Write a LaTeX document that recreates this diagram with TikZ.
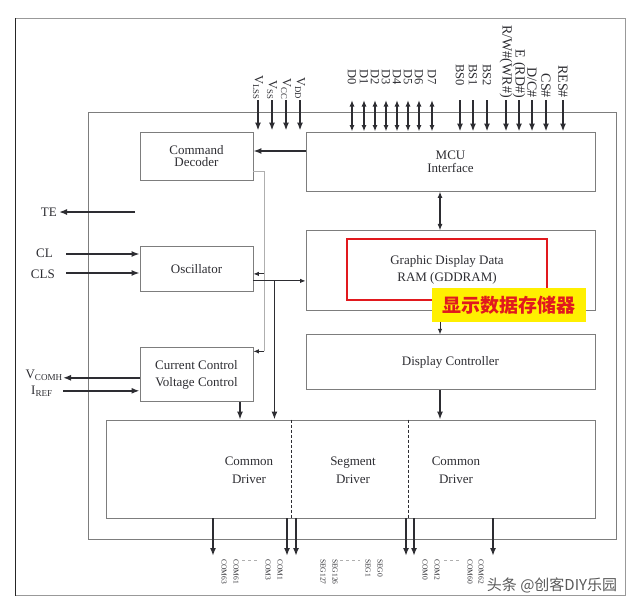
\documentclass[tikz,border=0pt]{standalone}
\usepackage{fontspec}
\setmainfont{Liberation Serif}
\newfontfamily\cjk{Noto Sans CJK SC}
\usepackage{tikz}
\usetikzlibrary{arrows.meta,positioning,calc}
\definecolor{boxgray}{RGB}{125,125,125}
\definecolor{inkgray}{RGB}{45,45,50}
\definecolor{busgray}{RGB}{175,175,175}
\definecolor{hlred}{RGB}{225,25,30}
\definecolor{hlyellow}{RGB}{255,240,0}

\begin{document}
\begin{tikzpicture}[x=1pt,y=-1pt,>={Latex[length=8pt,width=6pt]},node distance=20pt and 20pt,
  every node/.style={font=\fontsize{13}{17}\selectfont,text=inkgray,inner sep=0pt},
  blk/.style={draw=boxgray,line width=0.9pt,align=center,minimum width=113pt},
  wide/.style={draw=boxgray,line width=0.9pt,align=center,minimum width=289pt},
  pin/.style={line width=1.8pt,draw=inkgray},
  dpin/.style={line width=1.3pt,draw=inkgray,{Latex[length=6.5pt,width=5pt]}-{Latex[length=6.5pt,width=5pt]}},
  link/.style={line width=1.5pt,draw=inkgray},
  thin/.style={line width=0.9pt,draw=inkgray,-{Latex[length=5.5pt,width=4.5pt]}},
  gbus/.style={line width=0.9pt,draw=busgray},
  pinlbl/.style={rotate=-90,font=\fontsize{12.5}{12.5}\selectfont},
  ctllbl/.style={rotate=-90,font=\fontsize{14}{14}\selectfont},
  outlbl/.style={rotate=-90,anchor=west,font=\fontsize{7.5}{7.5}\selectfont}]
\useasboundingbox (0,0) rectangle (640,606);
% frame and chip outline
\node[draw=black!40,line width=0.8pt,minimum width=610pt,minimum height=577pt,anchor=north west](frame) at (15,18){};
\draw[black!85,line width=1pt](frame.north west)--(frame.south west);
\node[draw=boxgray,line width=0.9pt,minimum width=528pt,minimum height=427pt,anchor=north west](chip) at (88,112){};
% left column
\node[blk,minimum height=48pt,font=\fontsize{13}{12}\selectfont](cmd) at (196.5,156){Command\\Decoder};
\node[blk,minimum height=45pt,below=66pt of cmd](osc){Oscillator};
\node[blk,minimum height=54pt,below=55pt of osc](ccvc){Current Control\\Voltage Control};
% right column
\node[wide,minimum height=59pt,font=\fontsize{13}{13}\selectfont](mcu) at (450.5,161.5){MCU\\Interface};
\node[wide,minimum height=80pt,below=39pt of mcu](ram){};
\node[wide,minimum height=55pt,below=23pt of ram](dc){Display Controller};
\node[draw=hlred,line width=2.5pt,minimum width=200pt,minimum height=61pt,align=center](gdd) at (447,269.5){Graphic Display Data\\RAM (GDDRAM)};
% drivers
\node[draw=boxgray,line width=0.9pt,minimum width=489pt,minimum height=98pt](drv) at (350.5,469){};
\node[align=center,font=\fontsize{13}{18}\selectfont](comL) at (249,470){Common\\Driver};
\node[align=center,font=\fontsize{13}{18}\selectfont](seg) at (353,470){Segment\\Driver};
\node[align=center,font=\fontsize{13}{18}\selectfont](comR) at (456,470){Common\\Driver};
\draw[densely dashed,inkgray,line width=0.8pt]([xshift=186pt]drv.north west)--([xshift=186pt]drv.south west);
\draw[densely dashed,inkgray,line width=0.8pt]([xshift=303pt]drv.north west)--([xshift=303pt]drv.south west);
% internal connections
\draw[->,link]([yshift=5pt]cmd.east -| mcu.west)--([yshift=5pt]cmd.east);
\draw[dpin]([xshift=-10.5pt]mcu.south)--([xshift=-10.5pt]ram.north);
\draw[thin]([xshift=-10.5pt]ram.south)--([xshift=-10.5pt]dc.north);
\draw[->,link]([xshift=-10.5pt]dc.south)--([xshift=-10.5pt]dc.south |- drv.north);
\draw[gbus]([yshift=-15pt]cmd.east)-|([xshift=11pt,yshift=-4pt]ccvc.north east);
\draw[thin]([xshift=11pt,yshift=-4pt]ccvc.north east)--([yshift=-4pt]ccvc.north east);
\draw[thin]([xshift=11pt,yshift=-4.5pt]osc.east)--([yshift=-4.5pt]osc.east);
\draw[thin]([yshift=-11.5pt]osc.east)--([yshift=-11.5pt]osc.east -| ram.west);
\coordinate(oj) at ([xshift=21pt,yshift=-11.5pt]osc.east);
\draw[->,link](oj)--(oj |- drv.north);
\draw[->,link]([xshift=43.5pt]ccvc.south)--([xshift=43.5pt]ccvc.south |- drv.north);
% left pins
\node[anchor=east](te) at (57,212){TE};
\coordinate(tesrc) at (135,212);
\draw[->,link](tesrc)--([xshift=2pt]te.east);
\node[anchor=east](cl) at (53,253){CL};
\node[anchor=east](cls) at (55,274){CLS};
\draw[->,link]([xshift=13pt,yshift=-1pt]cl.east)--([yshift=-1pt]cl.east -| osc.west);
\draw[->,link]([xshift=11pt,yshift=1pt]cls.east)--([yshift=1pt]cls.east -| osc.west);
\node[anchor=east](vcomh) at (63,375){V\textsubscript{COMH}};
\node[anchor=west](iref) at (31,391){I\textsubscript{REF}};
\draw[->,link]([yshift=-3pt]ccvc.west)--([yshift=-3pt]ccvc.west -| vcomh.east);
\draw[->,link]([yshift=-16pt]ccvc.west -| vcomh.east)--([yshift=-16pt]ccvc.west);
% top pins
\foreach \x/\n/\t in {258/vlss/V\textsubscript{LSS},272/vss/V\textsubscript{SS},286/vcc/V\textsubscript{CC},300/vdd/V\textsubscript{DD}}{
  \node[pinlbl,anchor=east](\n) at (\x,100){\t};
  \coordinate(p\n) at (\x,100);
  \draw[->,pin](p\n)--([yshift=1pt]p\n |- mcu.north);
}
\foreach \x/\t in {352/D0,364/D1,375/D2,386/D3,397/D4,408/D5,419/D6,432/D7}{
  \node[pinlbl,anchor=west](\t) at (\x,69){\t};
  \coordinate(p\t) at (\x,100);
  \draw[dpin](p\t)--(p\t |- mcu.north);
}
\foreach \x/\t in {460/BS0,473/BS1,487/BS2}{
  \node[pinlbl,anchor=west](\t) at (\x,64){\t};
  \coordinate(p\t) at (\x,100);
  \draw[->,pin](p\t)--(p\t |- mcu.north);
}
\foreach \x/\n/\t in {506/rw/{R/W\#(WR\#)},519/e/{E (RD\#)},532/dcs/{D/C\#},546/cs/{CS\#},563/res/{RES\#}}{
  \node[ctllbl,anchor=east](\n) at (\x,98){\t};
  \coordinate(p\n) at (\x,100);
  \draw[->,pin](p\n)--(p\n |- mcu.north);
}
% bottom pins
\foreach \x in {213,287,296,406,414,493}{
  \coordinate(out\x) at (\x,556);
  \draw[->,pin](out\x |- drv.south)--(out\x);
}
\foreach \x/\t in {224/COM63,236/COM61,268/COM3,280/COM1,323/SEG127,335/SEG126,368/SEG1,380/SEG0,425/COM0,437/COM2,470/COM60,481/COM62}{
  \node[outlbl](\t) at (\x,559){\t};
}
\foreach \a/\b in {242/260,340/360,444/462}{\draw[dashed,busgray,line width=0.8pt](\a,560)--(\b,560);}
% highlight tag and watermark
\node[fill=hlyellow,minimum width=154pt,minimum height=34pt,text=hlred,font=\cjk\bfseries\fontsize{19}{19}\selectfont](tag) at (509,305){显示数据存储器};
\node[font=\cjk\fontsize{15}{15}\selectfont,text=black!65](wm) at (552,585){头条 @创客DIY乐园};
\end{tikzpicture}
\end{document}
